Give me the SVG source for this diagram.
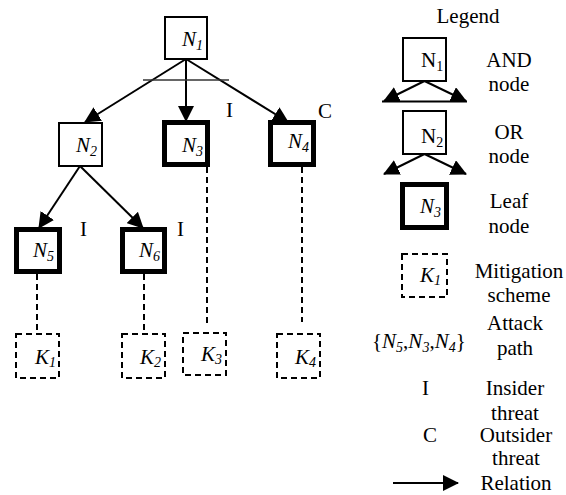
<svg xmlns="http://www.w3.org/2000/svg" width="566" height="495" viewBox="0 0 566 495">
<style>
text{font-family:"Liberation Serif","Times New Roman",serif;font-size:21px;fill:#000}
.it{font-style:italic}
.sub{font-size:14px}
.mid{text-anchor:middle}
.box{fill:#fff;stroke:#000;stroke-width:2}
.leaf{fill:#fff;stroke:#000;stroke-width:5}
.mit{fill:none;stroke:#000;stroke-width:2;stroke-dasharray:6 4}
.rel{fill:none;stroke:#000;stroke-width:2}
.dash{fill:none;stroke:#000;stroke-width:2;stroke-dasharray:6 4}
</style>
<defs>
<marker id="ah" markerUnits="userSpaceOnUse" markerWidth="16" markerHeight="16" viewBox="0 0 16 16" refX="15" refY="8" orient="auto">
<path d="M0,0 L16,8 L0,16 Z" fill="#000"/>
</marker>
</defs>
<rect width="566" height="495" fill="#fff"/>

<g id="connectors">
<line class="rel" x1="186" y1="59" x2="85" y2="122" marker-end="url(#ah)"/>
<line class="rel" x1="186" y1="59" x2="186" y2="121" marker-end="url(#ah)"/>
<line class="rel" x1="186" y1="59" x2="288" y2="122" marker-end="url(#ah)"/>
<line x1="143" y1="80" x2="229" y2="80" stroke="#333" stroke-width="1.5"/>
<line class="rel" x1="80" y1="166" x2="39" y2="228" marker-end="url(#ah)"/>
<line class="rel" x1="80" y1="166" x2="143" y2="228" marker-end="url(#ah)"/>
<line class="dash" x1="37" y1="274" x2="37" y2="334"/>
<line class="dash" x1="144" y1="274" x2="144" y2="334"/>
<line class="dash" x1="207" y1="167" x2="207" y2="325"/>
<line class="dash" x1="302" y1="167" x2="302" y2="322"/>
</g>

<g id="N1"><rect class="box" x="165" y="17" width="42" height="42"/><text class="it" x="182" y="46">N<tspan class="sub" dy="4">1</tspan></text></g>
<g id="N2"><rect class="box" x="59" y="123" width="43" height="43"/><text class="it" x="76" y="152">N<tspan class="sub" dy="4">2</tspan></text></g>
<g id="N3"><rect class="leaf" x="164.5" y="122.5" width="43" height="42"/><text class="it" x="182" y="152">N<tspan class="sub" dy="4">3</tspan></text><text x="226" y="117">I</text></g>
<g id="N4"><rect class="leaf" x="270.5" y="122.5" width="43" height="42"/><text class="it" x="288" y="148">N<tspan class="sub" dy="4">4</tspan></text><text x="318" y="118">C</text></g>
<g id="N5"><rect class="leaf" x="16.5" y="229.5" width="43" height="42"/><text class="it" x="33" y="257">N<tspan class="sub" dy="4">5</tspan></text><text x="80" y="236">I</text></g>
<g id="N6"><rect class="leaf" x="122.5" y="229.5" width="42" height="42"/><text class="it" x="139" y="257">N<tspan class="sub" dy="4">6</tspan></text><text x="177" y="236">I</text></g>

<g id="K1"><rect class="mit" x="16" y="334" width="43" height="44"/><text class="it" x="35" y="364">K<tspan class="sub" dy="3">1</tspan></text></g>
<g id="K2"><rect class="mit" x="122" y="334" width="43" height="44"/><text class="it" x="140" y="364">K<tspan class="sub" dy="3">2</tspan></text></g>
<g id="K3"><rect class="mit" x="183" y="333" width="43" height="42"/><text class="it" x="201" y="361">K<tspan class="sub" dy="3">3</tspan></text></g>
<g id="K4"><rect class="mit" x="277" y="334" width="43" height="44"/><text class="it" x="295" y="364">K<tspan class="sub" dy="3">4</tspan></text></g>

<g id="legend">
<text class="mid" x="468" y="23">Legend</text>

<rect class="box" x="403" y="38" width="43" height="43"/>
<text x="421" y="67">N<tspan class="sub" dy="4">1</tspan></text>
<line class="rel" x1="424.5" y1="81" x2="384" y2="101" marker-end="url(#ah)"/>
<line class="rel" x1="424.5" y1="81" x2="466" y2="101" marker-end="url(#ah)"/>
<line x1="382" y1="101.5" x2="467" y2="101.5" stroke="#000" stroke-width="2"/>
<text class="mid" x="509" y="67">AND</text>
<text class="mid" x="509" y="91">node</text>

<rect class="box" x="403" y="111" width="43" height="43"/>
<text x="421" y="143">N<tspan class="sub" dy="4">2</tspan></text>
<line class="rel" x1="424.5" y1="154" x2="384" y2="174" marker-end="url(#ah)"/>
<line class="rel" x1="424.5" y1="154" x2="466" y2="174" marker-end="url(#ah)"/>
<text class="mid" x="509" y="139">OR</text>
<text class="mid" x="509" y="163">node</text>

<rect class="leaf" x="402.5" y="184.5" width="44" height="43"/>
<text class="it" x="420" y="213">N<tspan class="sub" dy="4">3</tspan></text>
<text class="mid" x="509" y="208">Leaf</text>
<text class="mid" x="509" y="233">node</text>

<rect class="mit" x="402" y="254" width="45" height="43"/>
<text class="it" x="420" y="282">K<tspan class="sub" dy="3">1</tspan></text>
<text class="mid" x="519" y="278">Mitigation</text>
<text class="mid" x="519" y="302">scheme</text>

<text x="372" y="348">{<tspan class="it">N</tspan><tspan class="sub it" dy="4">5</tspan><tspan dy="-4">,</tspan><tspan class="it">N</tspan><tspan class="sub it" dy="4">3</tspan><tspan dy="-4">,</tspan><tspan class="it">N</tspan><tspan class="sub it" dy="4">4</tspan><tspan dy="-4">}</tspan></text>
<text class="mid" x="515" y="330">Attack</text>
<text class="mid" x="515" y="355">path</text>

<text x="422" y="395">I</text>
<text class="mid" x="515" y="395">Insider</text>
<text class="mid" x="515" y="420">threat</text>

<text x="423" y="442">C</text>
<text class="mid" x="516" y="442">Outsider</text>
<text class="mid" x="516" y="465">threat</text>

<line class="rel" x1="393" y1="483" x2="458" y2="483" marker-end="url(#ah)"/>
<text class="mid" x="516" y="490">Relation</text>
</g>
</svg>
